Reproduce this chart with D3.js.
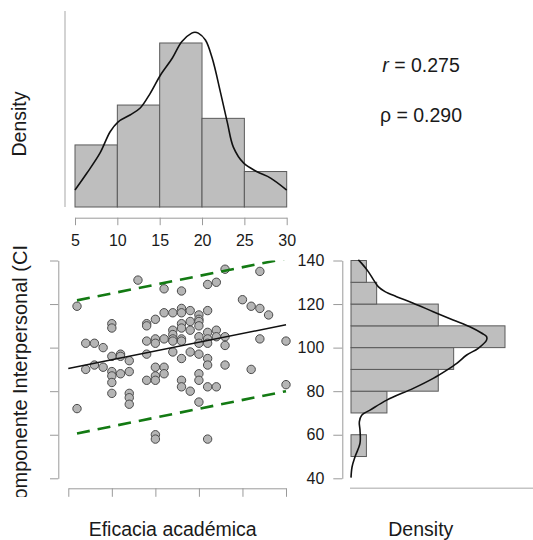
<!DOCTYPE html>
<html><head><meta charset="utf-8">
<script src="https://cdn.jsdelivr.net/npm/d3@7"></script>
<style>
body{margin:0;background:#fff}
text{font-family:"Liberation Sans",Arial,Helvetica,sans-serif;fill:#1a1a1a}
</style>
</head><body>
<svg id="c" width="533" height="540"></svg>
<script>
// ---------------- data ----------------
const xLabel = "Eficacia académica";
const yLabel = "Componente Interpersonal (CIP)";
const densLabel = "Density";
const xBreaks = [5, 10, 15, 20, 25, 30];
const xCounts = [14, 23, 37, 20, 8];
const yBreaks = [50, 60, 70, 80, 90, 100, 110, 120, 130, 140];
const yCounts = [3, 0, 7, 17, 20, 30, 17, 5, 3];
const xTicks = [5, 10, 15, 20, 25, 30];
const yTicks = [40, 60, 80, 100, 120, 140];
const efic = [6,6,7,7,8,8,9,9,10,10,10,10,10,10,10,11,11,11,12,12,12,12,12,13,14,14,14,14,14,15,15,15,15,15,15,15,15,16,16,16,16,16,17,17,17,17,17,17,18,18,18,18,18,18,18,18,18,18,19,19,19,19,19,20,20,20,20,20,20,20,20,20,20,21,21,21,21,21,21,21,21,21,22,22,22,22,23,23,23,23,25,26,26,27,27,27,28,30,30];
const comp = [119,72,102,90,102,92,100,91,111,109,96,89,87,84,79,97,96,88,94,89,79,77,74,131,111,110,103,97,85,113,104,102,91,87,85,60,58,127,116,104,91,88,116,108,106,104,103,98,126,118,116,111,109,104,103,95,85,82,117,112,108,98,80,115,113,112,110,105,102,97,88,85,75,129,117,107,104,102,95,92,82,58,130,108,105,82,136,105,101,92,122,119,90,135,118,104,115,103,83];
// kernel density of x
const kdX = [5, 6.39, 7.96, 9.15, 10.1, 11.5, 12.7, 13.9, 15.1, 16.5, 17.6, 18.78, 19.17, 19.56, 20.4, 21.2, 22.2, 23.0, 23.7, 24.9, 26.5, 28.1, 30];
const kdXd = [0.0075, 0.0149, 0.0239, 0.0333, 0.0377, 0.0407, 0.0438, 0.0504, 0.0584, 0.0659, 0.0731, 0.0769, 0.0773, 0.0769, 0.0739, 0.0659, 0.0504, 0.0372, 0.0265, 0.0195, 0.0156, 0.0128, 0.0075];
// kernel density of y
const kdY = [40.3, 45.2, 49.8, 56.1, 62.1, 65.9, 69.0, 71.3, 75.9, 81.3, 85.9, 89.7, 92.8, 96.6, 99.7, 103.5, 105.0, 106.6, 109.6, 112.7, 116.5, 120.4, 123.4, 125.7, 128.0, 131.1, 134.9, 138.8, 140.3];
const kdYd = [0, 0.0002, 0.00076, 0.00172, 0.00172, 0.00159, 0.00204, 0.00363, 0.00682, 0.0119, 0.0157, 0.0183, 0.0202, 0.0221, 0.0243, 0.0259, 0.0259, 0.025, 0.0227, 0.0195, 0.0157, 0.0119, 0.0087, 0.0065, 0.0052, 0.0043, 0.0033, 0.002, 0.0014];
// regression line and prediction interval
const regX = [5, 30], regY = [90.4, 110.5];
const piX = [6, 30], piUpY = [121.7, 140.9], piLoY = [60.6, 80.0];
const rVal = "0.275", rhoVal = "0.290";

// ---------------- drawing ----------------
const svg = d3.select("#c");
const N = d3.sum(xCounts);
const axisCol = "#9a9a9a", barFill = "#bebebe", barStroke = "#5a5a5a";

// top histogram
const xTop = d3.scaleLinear().domain([5, 30]).range([75, 286.7]);
const yTop = d3.scaleLinear().domain([0, 0.0867]).range([207, 11]);
const gTop = svg.append("g");
const topBins = xCounts.map((c, i) => ({x0: xBreaks[i], x1: xBreaks[i + 1], d: c / (N * (xBreaks[i + 1] - xBreaks[i]))}));
gTop.selectAll("rect").data(topBins).join("rect")
  .attr("x", d => xTop(d.x0)).attr("width", d => xTop(d.x1) - xTop(d.x0))
  .attr("y", d => yTop(d.d)).attr("height", d => yTop(0) - yTop(d.d))
  .attr("fill", barFill).attr("stroke", barStroke).attr("stroke-width", 1);
gTop.append("path").datum(kdX.map((x, i) => [x, kdXd[i]]))
  .attr("d", d3.line().x(d => xTop(d[0])).y(d => yTop(d[1])).curve(d3.curveCatmullRom))
  .attr("fill", "none").attr("stroke", "#111").attr("stroke-width", 1.6);
gTop.append("line").attr("x1", 65).attr("x2", 65).attr("y1", yTop.range()[1]).attr("y2", yTop(0))
  .attr("stroke", "#c4c4c4").attr("stroke-width", 1.5);
const axTop = gTop.append("g").attr("transform", "translate(0,217.7)")
  .call(d3.axisBottom(xTop).tickValues(xTicks).tickSize(7.5).tickSizeOuter(0).tickPadding(9));
axTop.select(".domain").attr("stroke", axisCol);
axTop.selectAll(".tick line").attr("stroke", axisCol);
axTop.selectAll(".tick text").attr("font-size", 16).attr("font-family", "Liberation Sans, Arial").attr("fill", "#1a1a1a");
gTop.append("text").attr("transform", "translate(26,124) rotate(-90)").attr("text-anchor", "middle")
  .attr("font-size", 19.5).text(densLabel);

// stats text
svg.append("text").attr("x", 421).attr("y", 71.7).attr("text-anchor", "middle").attr("font-size", 19.5)
  .call(t => { t.append("tspan").attr("font-style", "italic").text("r"); t.append("tspan").text(" = " + rVal); });
svg.append("text").attr("x", 421).attr("y", 121.7).attr("text-anchor", "middle").attr("font-size", 19.5)
  .text("ρ = " + rhoVal);

// scatter
const xSc = d3.scaleLinear().domain([5, 30]).range([68.3, 286]);
const ySc = d3.scaleLinear().domain([40, 140]).range([478.3, 260.5]);
const defs = svg.append("defs");
defs.append("clipPath").attr("id", "plotclip").append("rect")
  .attr("x", 40).attr("y", ySc(140)).attr("width", 260).attr("height", ySc(40) - ySc(140) + 10);
defs.append("clipPath").attr("id", "labclip").append("rect")
  .attr("x", 0).attr("y", 245).attr("width", 45).attr("height", 252);
const gS = svg.append("g");
const axSx = gS.append("g").attr("transform", "translate(0,488.3)")
  .call(d3.axisBottom(xSc).tickValues(xTicks).tickSize(8.5).tickSizeOuter(0).tickFormat(""));
const axSy = gS.append("g").attr("transform", "translate(58.3,0)")
  .call(d3.axisLeft(ySc).tickValues(yTicks).tickSize(8.3).tickSizeOuter(0).tickFormat(""));
[axSx, axSy].forEach(a => { a.select(".domain").attr("stroke", axisCol); a.selectAll(".tick line").attr("stroke", axisCol); });
const gP = gS.append("g").attr("clip-path", "url(#plotclip)");
const pts = efic.map((x, i) => [x, comp[i]]);
gP.selectAll("circle").data(pts).join("circle")
  .attr("cx", d => xSc(d[0])).attr("cy", d => ySc(d[1])).attr("r", 4.2)
  .attr("fill", "#b5b5b5").attr("stroke", "#4a4a4a").attr("stroke-width", 1);
const lineS = d3.line().x(d => xSc(d[0])).y(d => ySc(d[1]));
gP.append("path").datum(regX.map((x, i) => [x, regY[i]])).attr("d", lineS)
  .attr("stroke", "#111").attr("stroke-width", 1.5).attr("fill", "none");
[piUpY, piLoY].forEach(arr => {
  gP.append("path").datum(piX.map((x, i) => [x, arr[i]])).attr("d", lineS)
    .attr("stroke", "#137a13").attr("stroke-width", 2.6).attr("fill", "none").attr("stroke-dasharray", "13,8");
});
svg.append("text").attr("x", 172.7).attr("y", 536).attr("text-anchor", "middle").attr("font-size", 19.5).text(xLabel);
svg.append("g").attr("clip-path", "url(#labclip)").append("text")
  .attr("transform", "translate(26.5,369.5) rotate(-90)").attr("text-anchor", "middle")
  .attr("font-size", 20).text(yLabel);

// right histogram
const xR = d3.scaleLinear().domain([0, 0.03476]).range([351, 533]);
const gR = svg.append("g");
const rBins = yCounts.map((c, i) => ({y0: yBreaks[i], y1: yBreaks[i + 1], d: c / (N * (yBreaks[i + 1] - yBreaks[i]))})).filter(b => b.d > 0);
gR.selectAll("rect").data(rBins).join("rect")
  .attr("x", xR(0)).attr("width", d => xR(d.d) - xR(0))
  .attr("y", d => ySc(d.y1)).attr("height", d => ySc(d.y0) - ySc(d.y1))
  .attr("fill", barFill).attr("stroke", barStroke).attr("stroke-width", 1);
gR.append("path").datum(kdY.map((v, i) => [kdYd[i], v]))
  .attr("d", d3.line().x(d => xR(d[0])).y(d => ySc(d[1])).curve(d3.curveCatmullRom))
  .attr("fill", "none").attr("stroke", "#111").attr("stroke-width", 1.6);
const axR = gR.append("g").attr("transform", "translate(342.3,0)")
  .call(d3.axisLeft(ySc).tickValues(yTicks).tickSize(9).tickSizeOuter(0).tickPadding(9));
axR.select(".domain").attr("stroke", axisCol);
axR.selectAll(".tick line").attr("stroke", axisCol);
axR.selectAll(".tick text").attr("font-size", 16).attr("font-family", "Liberation Sans, Arial").attr("fill", "#1a1a1a");
gR.append("line").attr("x1", 350).attr("x2", 533).attr("y1", 488.3).attr("y2", 488.3)
  .attr("stroke", "#c4c4c4").attr("stroke-width", 1.5);
svg.append("text").attr("x", 420.8).attr("y", 536).attr("text-anchor", "middle").attr("font-size", 19.5).text(densLabel);
</script>
</body></html>
